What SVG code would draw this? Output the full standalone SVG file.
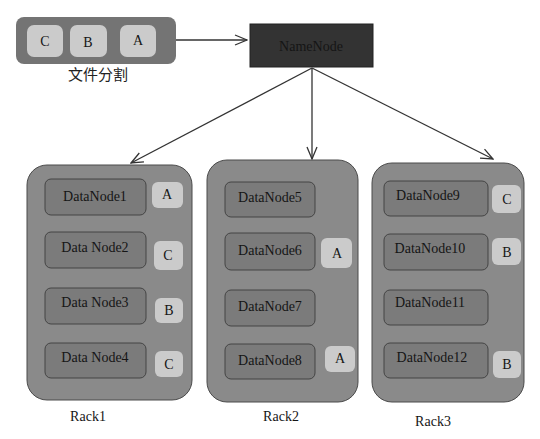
<svg xmlns="http://www.w3.org/2000/svg" width="540" height="439" viewBox="0 0 540 439">
<style>
.rack{fill:#8a8a8a;stroke:#4a4a4a;stroke-width:1}
.dn{fill:#7b7b7b;stroke:#444;stroke-width:1}
.bd{fill:#cbcbcb;stroke:none}
.t{font-family:"Liberation Serif",serif;font-size:14px;fill:#151515;text-anchor:middle}
.b{font-family:"Liberation Serif",serif;font-size:14px;fill:#151515;text-anchor:middle}
.c{stroke:#333;stroke-width:1.3;fill:none}
</style>
<defs>
<marker id="ah" markerWidth="14" markerHeight="12" refX="13" refY="6" orient="auto" markerUnits="userSpaceOnUse">
<path d="M1,1 L13,6 L1,11" fill="none" stroke="#333" stroke-width="1.3"/>
</marker>
</defs>
<rect width="540" height="439" fill="#ffffff"/>
<g id="file">
<rect x="16" y="17" width="160" height="47" rx="8" fill="#747474"/>
<rect x="27" y="25" width="36" height="32" rx="7" class="bd"/>
<rect x="70" y="25" width="37" height="32" rx="7" class="bd"/>
<rect x="120" y="25" width="36" height="32" rx="7" class="bd"/>
<text x="45" y="46" class="b" font-size="16">C</text>
<text x="88" y="47" class="b" font-size="16">B</text>
<text x="138" y="45" class="b" font-size="16">A</text>
<text x="98" y="80" font-family="'Noto Sans CJK SC',sans-serif" font-size="15" fill="#222" text-anchor="middle">文件分割</text>
</g>
<g id="namenode">
<rect x="250" y="24" width="123" height="43" fill="#333333" stroke="#222"/>
<text x="311" y="51" class="t" font-size="16" fill="#0a0a0a">NameNode</text>
</g>
<g id="connectors">
<line x1="176" y1="40" x2="247" y2="40" class="c" marker-end="url(#ah)"/>
<line x1="312" y1="68" x2="131" y2="163" class="c" marker-end="url(#ah)"/>
<line x1="312" y1="68" x2="312" y2="159" class="c" marker-end="url(#ah)"/>
<line x1="312" y1="68" x2="493" y2="159" class="c" marker-end="url(#ah)"/>
</g>
<g id="rack1">
<rect x="27" y="165" width="165" height="235" rx="20" class="rack"/>
<rect x="45" y="179" width="101" height="36" rx="6" class="dn"/>
<text x="95" y="201" class="t">DataNode1</text>
<rect x="152" y="182" width="31" height="26" rx="6" class="bd"/>
<text x="167" y="199" class="b">A</text>
<rect x="45" y="232" width="101" height="36" rx="6" class="dn"/>
<text x="95" y="252" class="t">Data Node2</text>
<rect x="154" y="241" width="29" height="29" rx="6" class="bd"/>
<text x="168" y="260" class="b">C</text>
<rect x="45" y="288" width="101" height="36" rx="6" class="dn"/>
<text x="95" y="307" class="t">Data Node3</text>
<rect x="155" y="298" width="28" height="25" rx="6" class="bd"/>
<text x="169" y="315" class="b">B</text>
<rect x="45" y="343" width="101" height="35" rx="6" class="dn"/>
<text x="95" y="362" class="t">Data Node4</text>
<rect x="155" y="351" width="28" height="26" rx="6" class="bd"/>
<text x="169" y="369" class="b">C</text>
</g>
<g id="rack2">
<rect x="207" y="160" width="151" height="242" rx="20" class="rack"/>
<rect x="225" y="182" width="90" height="35" rx="6" class="dn"/>
<text x="270" y="202" class="t">DataNode5</text>
<rect x="225" y="233" width="90" height="37" rx="6" class="dn"/>
<text x="270" y="255" class="t">DataNode6</text>
<rect x="321" y="238" width="31" height="30" rx="6" class="bd"/>
<text x="337" y="258" class="b">A</text>
<rect x="225" y="290" width="90" height="36" rx="6" class="dn"/>
<text x="270" y="311" class="t">DataNode7</text>
<rect x="225" y="344" width="90" height="35" rx="6" class="dn"/>
<text x="270" y="365" class="t">DataNode8</text>
<rect x="325" y="346" width="30" height="26" rx="6" class="bd"/>
<text x="340" y="363" class="b">A</text>
</g>
<g id="rack3">
<rect x="372" y="163" width="152" height="239" rx="20" class="rack"/>
<rect x="384" y="181" width="104" height="35" rx="6" class="dn"/>
<text x="428" y="200" class="t">DataNode9</text>
<rect x="492" y="185" width="29" height="28" rx="6" class="bd"/>
<text x="507" y="204" class="b">C</text>
<rect x="384" y="234" width="104" height="36" rx="6" class="dn"/>
<text x="430" y="253" class="t">DataNode10</text>
<rect x="492" y="238" width="29" height="27" rx="6" class="bd"/>
<text x="507" y="257" class="b">B</text>
<rect x="384" y="290" width="104" height="35" rx="6" class="dn"/>
<text x="430" y="307" class="t">DataNode11</text>
<rect x="384" y="343" width="104" height="35" rx="6" class="dn"/>
<text x="432" y="362" class="t">DataNode12</text>
<rect x="493" y="351" width="28" height="27" rx="6" class="bd"/>
<text x="507" y="369" class="b">B</text>
</g>
<text x="88" y="421" class="t">Rack1</text>
<text x="281" y="421" class="t" font-size="15">Rack2</text>
<text x="433" y="426" class="t">Rack3</text>
</svg>
